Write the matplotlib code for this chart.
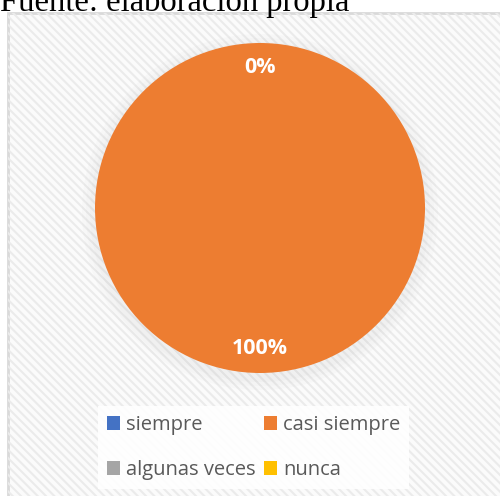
import matplotlib
matplotlib.use("Agg")
import matplotlib.pyplot as plt
from matplotlib.patches import Rectangle, Patch
import numpy as np

categories = ["siempre", "casi siempre", "algunas veces", "nunca"]
values = [0, 100, 0, 0]
colors = ["#4472C4", "#ED7D31", "#A5A5A5", "#FFC000"]
source_text = "Fuente: elaboración propia"

plt.rcParams["hatch.linewidth"] = 1.5

W, H = 500, 496
fig = plt.figure(figsize=(W / 100, H / 100), dpi=100)
fig.patch.set_facecolor("white")

# Source text (cut at top)
fig.text(0.0, 1 - 11 / H, source_text, family="Liberation Serif", fontsize=23.5,
         color="black", ha="left", va="baseline")

# Chart area background with diagonal hatch
bg = fig.add_axes([0, 0, 1, 1], zorder=0)
bg.set_xlim(0, W); bg.set_ylim(H, 0); bg.axis("off")
bg.add_patch(Rectangle((8, 13), W, H, facecolor="#FBFBFB", edgecolor="#D9D9D9",
                       linewidth=2))
bg.add_patch(Rectangle((8, 13), W, H, facecolor="none", edgecolor="#EBEBEB",
                       hatch="\\\\\\\\", linewidth=0))
# soft shadow around the pie
for r, a in [(178, 0.03), (174, 0.03), (170, 0.04)]:
    bg.add_patch(plt.Circle((260, 212), r, color="#9a9a9a", alpha=a, lw=0))

# Pie
cx, cy, R = 260, 208, 165
ax = fig.add_axes([(cx - R) / W, 1 - (cy + R) / H, 2 * R / W, 2 * R / H], zorder=2)
wedges, _ = ax.pie(values, colors=colors, startangle=90, counterclock=False,
                   radius=1, wedgeprops=dict(linewidth=0))
ax.set_xlim(-1, 1); ax.set_ylim(-1, 1); ax.set_aspect("auto")

total = sum(values)
cum = 0
shown = set()
for v in values:
    pct = 100 * v / total
    mid = cum + v / 2
    ang = np.deg2rad(90 - 360 * mid / total)
    rr = 0.85
    key = (round(np.cos(ang) * rr, 3), round(np.sin(ang) * rr, 3))
    cum += v
    if key in shown:
        continue
    shown.add(key)
    ax.text(np.cos(ang) * rr, np.sin(ang) * rr, f"{pct:.0f}%", ha="center",
            va="center", color="white", fontsize=15.5, fontweight="bold",
            family="Open Sans")

# Legend
handles = [Patch(facecolor=c, edgecolor="none") for c in colors]
order = [0, 2, 1, 3]
leg = fig.legend([handles[i] for i in order], [categories[i] for i in order],
                 ncol=2, loc="upper left",
                 bbox_to_anchor=(98 / W, 1 - 406 / H), borderaxespad=0,
                 frameon=True,
                 prop={"family": "Open Sans", "size": 14.5},
                 handlelength=0.65, handleheight=0.65, handletextpad=0.3,
                 columnspacing=0.4, labelspacing=1.25, borderpad=0.45,
                 fancybox=False)
leg.get_frame().set_facecolor("white")
leg.get_frame().set_edgecolor("none")
leg.get_frame().set_alpha(0.9)
for t in leg.get_texts():
    t.set_color("#595959")

fig.savefig("out.png", dpi=100)
